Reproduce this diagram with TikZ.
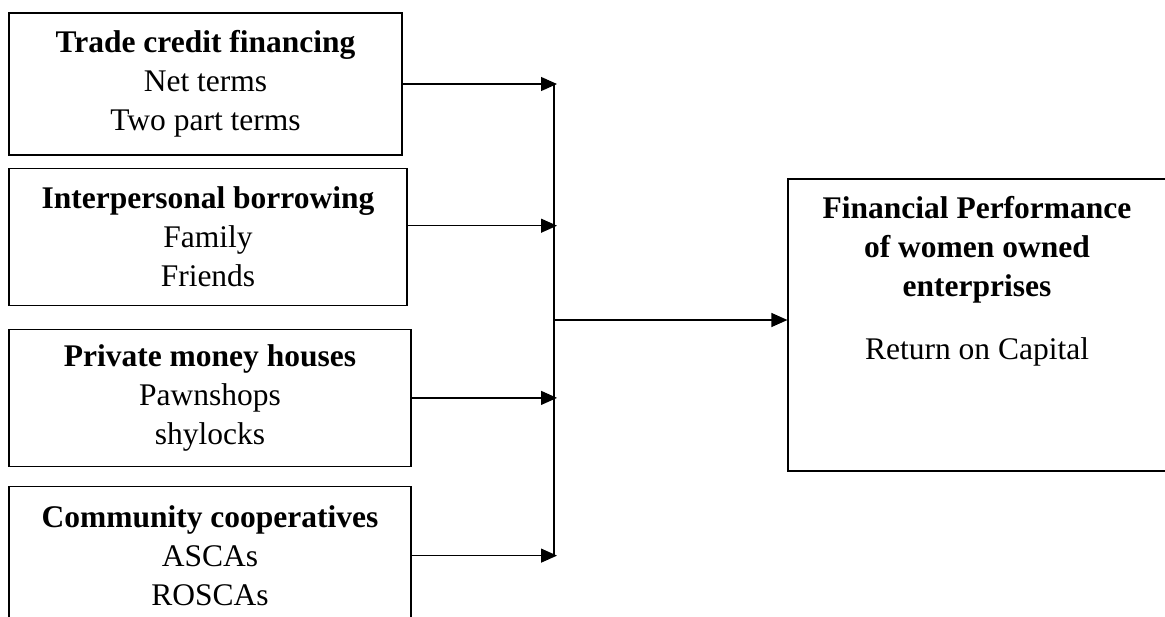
\documentclass[tikz,border=0pt]{standalone}
\usepackage{fontspec}
\setmainfont{Liberation Serif}
\usepackage{tikz}
\usetikzlibrary{positioning,arrows.meta}

\begin{document}
\begin{tikzpicture}[
    x=0.5pt, y=-0.5pt,
    font=\fontsize{15.75}{19.5}\selectfont,
    box/.style={draw, line width=0.6pt, align=center, inner sep=2pt},
    arr/.style={-{Triangle[length=8pt, width=7pt]}, line width=0.6pt}
  ]
    \useasboundingbox (0,0) rectangle (1165,616);
    \node[box, minimum width=196.5pt, minimum height=71pt] (tc) at (205.5,84)
      {\textbf{Trade credit financing}\\Net terms\\Two part terms};
    \node[box, minimum width=199pt, minimum height=68.5pt, below right=6pt and 0pt of tc.south west] (ib)
      {\textbf{Interpersonal borrowing}\\Family\\Friends};
    \node[box, minimum width=201pt, minimum height=68.5pt, below right=11.5pt and 0pt of ib.south west] (pm)
      {\textbf{Private money houses}\\Pawnshops\\shylocks};
    \node[box, minimum width=201pt, minimum height=69pt, below right=9.5pt and 0pt of pm.south west] (cc)
      {\textbf{Community cooperatives}\\ASCAs\\ROSCAs};
    \node[box, minimum width=189pt, minimum height=146pt] (fp) at (977,325)
      {\textbf{Financial Performance}\\\textbf{of women owned}\\\textbf{enterprises}\\[12pt]Return on Capital\\[28pt]\mbox{}};
    \coordinate (bus) at (554,0);
    \coordinate (ibout) at ([yshift=5.5pt]ib.east);
    \coordinate (fpin) at ([yshift=2.5pt]fp.west);
    \draw[arr] (tc.east) -- ([xshift=1.5pt]bus |- tc.east);
    \draw[arr] (ibout) -- ([xshift=1.5pt]bus |- ibout);
    \draw[arr] (pm.east) -- ([xshift=1.5pt]bus |- pm.east);
    \draw[arr] (cc.east) -- ([xshift=1.5pt]bus |- cc.east);
    \draw[line width=0.6pt] (bus |- tc.east) -- (bus |- cc.east);
    \draw[arr] (bus |- fpin) -- (fpin);
  \end{tikzpicture}
\end{document}
